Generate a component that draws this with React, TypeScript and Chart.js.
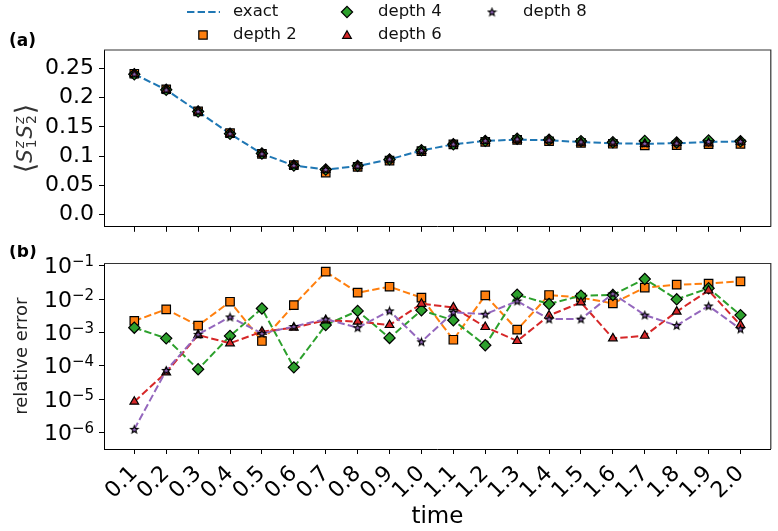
import React, { useEffect, useRef } from 'react';
import { Chart, registerables } from 'chart.js';
Chart.register(...registerables);

// ---------- data ----------
const times = [0.1, 0.2, 0.3, 0.4, 0.5, 0.6, 0.7, 0.8, 0.9, 1.0, 1.1, 1.2, 1.3, 1.4, 1.5, 1.6, 1.7, 1.8, 1.9, 2.0];
const timeLabels = ['0.1', '0.2', '0.3', '0.4', '0.5', '0.6', '0.7', '0.8', '0.9', '1.0', '1.1', '1.2', '1.3', '1.4', '1.5', '1.6', '1.7', '1.8', '1.9', '2.0'];

const exact = [0.240, 0.213, 0.176, 0.138, 0.104, 0.084, 0.077, 0.083, 0.0945, 0.1096, 0.120, 0.126, 0.128, 0.127, 0.124, 0.122, 0.121, 0.122, 0.124, 0.125];
const depth2Top = [0.2405, 0.2140, 0.1763, 0.1391, 0.1039, 0.0845, 0.0719, 0.0817, 0.0923, 0.1084, 0.1199, 0.1244, 0.1278, 0.1253, 0.1226, 0.1211, 0.1183, 0.1187, 0.1204, 0.1208];
const depth4Top = [0.2397, 0.2131, 0.1760, 0.1381, 0.1045, 0.0840, 0.0771, 0.0834, 0.0944, 0.1101, 0.1203, 0.1260, 0.1297, 0.1279, 0.1256, 0.1236, 0.1258, 0.1232, 0.1266, 0.1254];
const depth6Top = [0.2400, 0.2130, 0.1761, 0.1381, 0.1041, 0.0841, 0.0768, 0.0832, 0.0943, 0.1088, 0.1207, 0.1258, 0.1280, 0.1274, 0.1231, 0.1219, 0.1209, 0.1225, 0.1218, 0.1248];
const depth8Top = [0.2400, 0.2130, 0.1762, 0.1384, 0.1041, 0.0841, 0.0772, 0.0831, 0.0949, 0.1096, 0.1205, 0.1264, 0.1291, 0.1273, 0.1243, 0.1238, 0.1214, 0.1222, 0.1248, 0.1252];

const depth2Err = [2.2e-3, 4.9e-3, 1.6e-3, 8.3e-3, 5.5e-4, 6.6e-3, 0.066, 0.0155, 0.0234, 0.011, 6.0e-4, 0.0129, 1.2e-3, 0.0132, 0.011, 7.4e-3, 0.022, 0.027, 0.029, 0.034];
const depth4Err = [1.38e-3, 6.6e-4, 7.8e-5, 7.8e-4, 5.2e-3, 8.9e-5, 1.66e-3, 4.4e-3, 6.8e-4, 4.6e-3, 2.3e-3, 4.1e-4, 0.0135, 7.1e-3, 0.0126, 0.0132, 0.040, 9.8e-3, 0.021, 3.3e-3];
const depth6Err = [8.3e-6, 6.3e-5, 8.3e-4, 4.7e-4, 1.05e-3, 1.38e-3, 2.3e-3, 2.1e-3, 1.66e-3, 7.2e-3, 5.6e-3, 1.45e-3, 5.5e-4, 3.2e-3, 7.9e-3, 6.6e-4, 7.9e-4, 4.2e-3, 0.018, 1.66e-3];
const depth8Err = [1.23e-6, 7.2e-5, 8.7e-4, 2.9e-3, 9.3e-4, 1.5e-3, 2.5e-3, 1.38e-3, 4.4e-3, 5.2e-4, 4.0e-3, 3.5e-3, 8.7e-3, 2.5e-3, 2.5e-3, 0.0145, 3.3e-3, 1.6e-3, 6.2e-3, 1.26e-3];

const yTopTicks = [0, 0.05, 0.1, 0.15, 0.2, 0.25];
const yTopLabels = ['0.0', '0.05', '0.1', '0.15', '0.2', '0.25'];
const yErrTicks = [1e-1, 1e-2, 1e-3, 1e-4, 1e-5, 1e-6];
const yErrExps = ['\u22121', '\u22122', '\u22123', '\u22124', '\u22125', '\u22126'];

// ---------- styles ----------
const BLUE = '#1f77b4', ORANGE = '#ff7f0e', GREEN = '#2ca02c', RED = '#d62728', PURPLE = '#9467bd';
const FONT = '"DejaVu Sans"';
const DASH = [7.4, 3.2];
const W = 778;
const TOP_H = 245;
const BOT_H = 286;
const X_MIN = 0.005, X_MAX = 2.095;

function makeStar(): HTMLCanvasElement {
  const c = document.createElement('canvas');
  c.width = 11; c.height = 11;
  const ctx = c.getContext('2d')!;
  const cx = 5.5, cy = 5.8, R = 3.9, r = 1.65;
  ctx.beginPath();
  for (let i = 0; i < 10; i++) {
    const rad = i % 2 === 0 ? R : r;
    const a = -Math.PI / 2 + (i * Math.PI) / 5;
    const px = cx + rad * Math.cos(a), py = cy + rad * Math.sin(a);
    if (i === 0) ctx.moveTo(px, py); else ctx.lineTo(px, py);
  }
  ctx.closePath();
  ctx.fillStyle = PURPLE;
  ctx.fill();
  ctx.lineWidth = 1.1;
  ctx.strokeStyle = '#000';
  ctx.stroke();
  return c;
}

type Mk = { style: any; radius: number; color: string };
const MK2: Mk = { style: 'rect', radius: 6, color: ORANGE };
const MK4: Mk = { style: 'rectRot', radius: 5.6, color: GREEN };
const MK6: Mk = { style: 'triangle', radius: 5, color: RED };

function pts(ys: number[]) {
  return times.map((t, i) => ({ x: t, y: ys[i] }));
}

function xScale(showLabels: boolean, fitH: number) {
  return {
    type: 'linear',
    min: X_MIN,
    max: X_MAX,
    afterBuildTicks: (s: any) => { s.ticks = times.map((v) => ({ value: v })); },
    afterFit: (s: any) => { s.height = fitH; },
    grid: { display: true, drawOnChartArea: false, drawTicks: true, tickLength: 5, color: '#000', lineWidth: 1 },
    border: { display: true, color: '#000', width: 1 },
    ticks: {
      display: showLabels,
      autoSkip: false,
      minRotation: 45,
      maxRotation: 45,
      padding: 7,
      color: '#000',
      font: { family: FONT, size: 22 },
      callback: (_v: any, i: number) => (showLabels ? timeLabels[i] : ''),
    },
  };
}

function drawMarker(ctx: CanvasRenderingContext2D, kind: string, x: number, y: number, star: HTMLCanvasElement) {
  ctx.save();
  ctx.lineWidth = 1.2;
  ctx.strokeStyle = '#000';
  ctx.setLineDash([]);
  if (kind === 'star') {
    ctx.drawImage(star, x - star.width / 2, y - star.height / 2);
    ctx.restore();
    return;
  }
  ctx.beginPath();
  if (kind === 'square') {
    const h = 4.2;
    ctx.rect(x - h, y - h, 2 * h, 2 * h);
    ctx.fillStyle = ORANGE;
  } else if (kind === 'diamond') {
    const r = 5.6;
    ctx.moveTo(x - r, y); ctx.lineTo(x, y - r); ctx.lineTo(x + r, y); ctx.lineTo(x, y + r); ctx.closePath();
    ctx.fillStyle = GREEN;
  } else {
    const r = 5;
    for (let i = 0; i < 3; i++) {
      const a = -Math.PI / 2 + (i * 2 * Math.PI) / 3;
      const px = x + r * Math.cos(a), py = y + 0.8 + r * Math.sin(a);
      if (i === 0) ctx.moveTo(px, py); else ctx.lineTo(px, py);
    }
    ctx.closePath();
    ctx.fillStyle = RED;
  }
  ctx.fill();
  ctx.stroke();
  ctx.restore();
}

function frame(chart: any) {
  const { ctx, chartArea: a } = chart;
  ctx.save();
  ctx.strokeStyle = '#333';
  ctx.lineWidth = 1.2;
  ctx.beginPath();
  ctx.moveTo(a.left, a.top);
  ctx.lineTo(a.right, a.top);
  ctx.lineTo(a.right, a.bottom);
  ctx.stroke();
  ctx.restore();
}

export default function App() {
  const topRef = useRef<HTMLCanvasElement>(null);
  const botRef = useRef<HTMLCanvasElement>(null);

  useEffect(() => {
    const star = makeStar();

    const topDeco = {
      id: 'topDeco',
      afterDraw(chart: any) {
        frame(chart);
        const ctx = chart.ctx as CanvasRenderingContext2D;
        ctx.save();
        // panel label
        ctx.fillStyle = '#000';
        ctx.font = `bold 17px ${FONT}`;
        ctx.textAlign = 'left';
        ctx.textBaseline = 'middle';
        ctx.fillText('(a)', 9, 42);
        // legend
        ctx.font = `16.5px ${FONT}`;
        ctx.fillStyle = '#111';
        ctx.strokeStyle = BLUE;
        ctx.lineWidth = 2;
        ctx.setLineDash(DASH);
        ctx.beginPath();
        ctx.moveTo(187, 12);
        ctx.lineTo(220, 12);
        ctx.stroke();
        ctx.setLineDash([]);
        ctx.fillText('exact', 233, 12);
        drawMarker(ctx, 'square', 203, 35, star);
        ctx.fillText('depth 2', 233, 35);
        drawMarker(ctx, 'diamond', 347, 12, star);
        ctx.fillText('depth 4', 378, 12);
        drawMarker(ctx, 'triangle', 347, 35, star);
        ctx.fillText('depth 6', 378, 35);
        drawMarker(ctx, 'star', 492, 12, star);
        ctx.fillText('depth 8', 523, 12);
        // y title <S1z S2z>
        ctx.translate(25, (chart.chartArea.top + chart.chartArea.bottom) / 2);
        ctx.rotate(-Math.PI / 2);
        ctx.fillStyle = '#333';
        ctx.textBaseline = 'alphabetic';
        const br = `27px ${FONT}`, bigI = `italic 21px ${FONT}`, sm = `14px ${FONT}`, smI = `italic 14px ${FONT}`;
        const seq: Array<[string, string, number, boolean]> = [
          ['\u27e8', br, 9, true], ['S', bigI, 7, true], ['z', smI, -1, false], ['1', sm, 11, true],
          ['S', bigI, 7, true], ['z', smI, -1, false], ['2', sm, 11, true], ['\u27e9', br, 9, true],
        ];
        const widths: number[] = [];
        for (let i = 0; i < seq.length; i++) {
          ctx.font = seq[i][1];
          widths.push(ctx.measureText(seq[i][0]).width);
        }
        const adv: number[] = [];
        for (let i = 0; i < seq.length; i++) {
          if (!seq[i][3]) { adv.push(0); }
          else if (i > 0 && !seq[i - 1][3]) { adv.push(Math.max(widths[i], widths[i - 1]) + 1); }
          else adv.push(widths[i] + (seq[i][0] === 'S' ? 1 : 0));
        }
        const total = adv.reduce((a, b) => a + b, 0);
        let cx = -total / 2;
        for (let i = 0; i < seq.length; i++) {
          ctx.font = seq[i][1];
          ctx.fillText(seq[i][0], cx, seq[i][2]);
          cx += adv[i];
        }
        ctx.restore();
      },
    };

    const top = new Chart(topRef.current!, {
      type: 'line',
      data: {
        datasets: [
          { label: 'exact', data: pts(exact), borderColor: BLUE, borderWidth: 2, borderDash: DASH, pointRadius: 0, order: 5, tension: 0 },
          { label: 'depth 2', data: pts(depth2Top), showLine: false, pointStyle: MK2.style, pointRadius: MK2.radius, pointBackgroundColor: ORANGE, pointBorderColor: '#000', pointBorderWidth: 1.2, order: 4 },
          { label: 'depth 4', data: pts(depth4Top), showLine: false, pointStyle: MK4.style, pointRadius: MK4.radius, pointBackgroundColor: GREEN, pointBorderColor: '#000', pointBorderWidth: 1.2, order: 3 },
          { label: 'depth 6', data: pts(depth6Top), showLine: false, pointStyle: MK6.style, pointRadius: MK6.radius, pointBackgroundColor: RED, pointBorderColor: '#000', pointBorderWidth: 1.2, order: 2 },
          { label: 'depth 8', data: pts(depth8Top), showLine: false, pointStyle: star, pointRadius: 5, order: 1 },
        ] as any,
      },
      options: {
        responsive: false,
        animation: false,
        layout: { padding: { top: 50, right: 4, left: 0, bottom: 0 } },
        plugins: { legend: { display: false }, tooltip: { enabled: false } },
        scales: {
          x: xScale(false, TOP_H - 236) as any,
          y: {
            type: 'linear',
            min: -0.0206,
            max: 0.281,
            afterBuildTicks: (s: any) => { s.ticks = yTopTicks.map((v) => ({ value: v })); },
            afterFit: (s: any) => { s.width = 104; },
            grid: { display: true, drawOnChartArea: false, drawTicks: true, tickLength: 5, color: '#000', lineWidth: 1 },
            border: { display: true, color: '#000', width: 1 },
            ticks: {
              padding: 5,
              color: '#000',
              font: { family: FONT, size: 22 },
              callback: (_v: any, i: number) => yTopLabels[i],
            },
          } as any,
        },
      },
      plugins: [topDeco],
    });

    const botDeco = {
      id: 'botDeco',
      afterDraw(chart: any) {
        frame(chart);
        const ctx = chart.ctx as CanvasRenderingContext2D;
        const a = chart.chartArea;
        ctx.save();
        ctx.fillStyle = '#000';
        ctx.font = `bold 17px ${FONT}`;
        ctx.textAlign = 'left';
        ctx.textBaseline = 'middle';
        ctx.fillText('(b)', 9, 8);
        // log tick labels
        const ys = chart.scales.y;
        ctx.textBaseline = 'alphabetic';
        yErrTicks.forEach((v, i) => {
          const py = ys.getPixelForValue(v);
          const right = 94;
          ctx.font = `15px ${FONT}`;
          const ew = ctx.measureText(yErrExps[i]).width;
          ctx.fillText(yErrExps[i], right - ew, py + 0.5);
          ctx.font = `22px ${FONT}`;
          const bw = ctx.measureText('10').width;
          ctx.fillText('10', right - ew - bw, py + 7.8);
        });
        // y title
        ctx.save();
        ctx.translate(22, (a.top + a.bottom) / 2);
        ctx.rotate(-Math.PI / 2);
        ctx.textAlign = 'center';
        ctx.textBaseline = 'middle';
        ctx.font = `18px ${FONT}`;
        ctx.fillStyle = '#222';
        ctx.fillText('relative error', 0, 0);
        ctx.restore();
        // x title
        ctx.textAlign = 'center';
        ctx.textBaseline = 'middle';
        ctx.font = `23px ${FONT}`;
        ctx.fillStyle = '#000';
        ctx.fillText('time', (a.left + a.right) / 2, 272);
        ctx.restore();
      },
    };

    const lineDs = (label: string, ys: number[], color: string, mk: any, radius: number, order: number) => ({
      label,
      data: pts(ys),
      borderColor: color,
      borderWidth: 2,
      borderDash: DASH,
      tension: 0,
      pointStyle: mk,
      pointRadius: radius,
      pointBackgroundColor: color,
      pointBorderColor: '#000',
      pointBorderWidth: 1.2,
      order,
    });

    const bot = new Chart(botRef.current!, {
      type: 'line',
      data: {
        datasets: [
          lineDs('depth 2', depth2Err, ORANGE, MK2.style, MK2.radius, 4),
          lineDs('depth 4', depth4Err, GREEN, MK4.style, MK4.radius, 3),
          lineDs('depth 6', depth6Err, RED, MK6.style, MK6.radius, 2),
          lineDs('depth 8', depth8Err, PURPLE, star, 5, 1),
        ] as any,
      },
      options: {
        responsive: false,
        animation: false,
        layout: { padding: { top: 18.5, right: 4, left: 0, bottom: 0 } },
        plugins: { legend: { display: false }, tooltip: { enabled: false } },
        scales: {
          x: xScale(true, BOT_H - 204) as any,
          y: {
            type: 'logarithmic',
            min: Math.pow(10, -6.5),
            max: Math.pow(10, -0.934),
            afterBuildTicks: (s: any) => { s.ticks = yErrTicks.map((v) => ({ value: v, major: true })); },
            afterFit: (s: any) => { s.width = 104; },
            grid: { display: true, drawOnChartArea: false, drawTicks: true, tickLength: 5, color: '#000', lineWidth: 1 },
            border: { display: true, color: '#000', width: 1 },
            ticks: { padding: 5, color: '#000', font: { family: FONT, size: 22 }, callback: () => '' },
          } as any,
        },
      },
      plugins: [botDeco],
    });

    return () => {
      top.destroy();
      bot.destroy();
    };
  }, []);

  return (
    <div style={{ position: 'absolute', left: 0, top: 0, width: W, height: TOP_H + BOT_H, background: '#fff' }}>
      <canvas ref={topRef} width={W} height={TOP_H} style={{ position: 'absolute', left: 0, top: 0, width: W, height: TOP_H }} />
      <canvas ref={botRef} width={W} height={BOT_H} style={{ position: 'absolute', left: 0, top: TOP_H, width: W, height: BOT_H }} />
    </div>
  );
}
